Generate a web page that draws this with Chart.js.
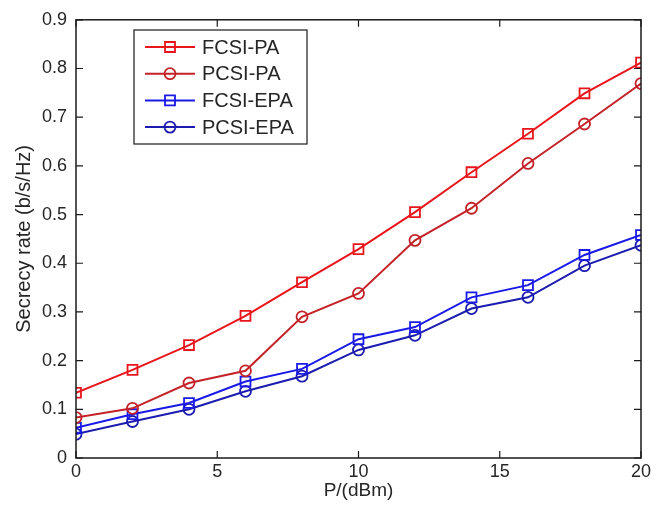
<!DOCTYPE html>
<html>
<head>
<meta charset="utf-8">
<script src="https://cdn.jsdelivr.net/npm/chart.js"></script>
<style>
  html, body { margin: 0; padding: 0; background: #fff; }
  #wrap { width: 663px; height: 514px; }
</style>
</head>
<body>
<div id="wrap"><canvas id="chart" width="663" height="514"></canvas></div>
<script>
// valores
const potencia = [0, 2, 4, 6, 8, 10, 12, 14, 16, 18, 20];
const fcsiPA  = [0.134, 0.181, 0.232, 0.292, 0.361, 0.429, 0.505, 0.587, 0.666, 0.749, 0.812];
const pcsiPA  = [0.083, 0.102, 0.154, 0.179, 0.290, 0.338, 0.447, 0.513, 0.605, 0.686, 0.769];
const fcsiEPA = [0.062, 0.090, 0.113, 0.157, 0.183, 0.244, 0.269, 0.330, 0.355, 0.417, 0.458];
const pcsiEPA = [0.049, 0.075, 0.100, 0.137, 0.168, 0.222, 0.252, 0.307, 0.330, 0.395, 0.437];
const etiquetas = ['FCSI-PA', 'PCSI-PA', 'FCSI-EPA', 'PCSI-EPA'];
const xTicks = [0, 5, 10, 15, 20];
const yTicks = [0, 0.1, 0.2, 0.3, 0.4, 0.5, 0.6, 0.7, 0.8, 0.9];

const colores = ['#e8161c', '#c42228', '#1a1ae8', '#1c1cb0'];
const marcas = ['rect', 'circle', 'rect', 'circle'];
const series = [fcsiPA, pcsiPA, fcsiEPA, pcsiEPA];

const FONT = '"Liberation Sans", Arial, sans-serif';
const TXT = '#262626';

function puntos(vals) {
    return potencia.map((p, i) => ({ x: p, y: vals[i] }));
}

// caja y marcas hacia adentro, estilo MATLAB
const cajaPlugin = {
    id: 'caja',
    afterDatasetsDraw(chart) {
        const { ctx, chartArea: a, scales } = chart;
        ctx.save();
        ctx.strokeStyle = '#1a1a1a';
        ctx.lineWidth = 1.5;
        ctx.strokeRect(a.left, a.top, a.right - a.left, a.bottom - a.top);
        ctx.lineWidth = 1.2;
        ctx.beginPath();
        xTicks.forEach(v => {
            const px = scales.x.getPixelForValue(v);
            ctx.moveTo(px, a.bottom); ctx.lineTo(px, a.bottom - 7);
            ctx.moveTo(px, a.top); ctx.lineTo(px, a.top + 7);
        });
        yTicks.forEach(v => {
            const py = scales.y.getPixelForValue(v);
            ctx.moveTo(a.left, py); ctx.lineTo(a.left + 7, py);
            ctx.moveTo(a.right, py); ctx.lineTo(a.right - 7, py);
        });
        ctx.stroke();
        ctx.restore();
    }
};

// leyenda dentro del area, con caja
const leyendaPlugin = {
    id: 'leyenda',
    afterDraw(chart) {
        const ctx = chart.ctx;
        const bx = 134, by = 30, bw = 173, bh = 114;
        ctx.save();
        ctx.fillStyle = '#fff';
        ctx.fillRect(bx, by, bw, bh);
        ctx.strokeStyle = '#1a1a1a';
        ctx.lineWidth = 1.2;
        ctx.strokeRect(bx, by, bw, bh);
        ctx.font = '20px ' + FONT;
        ctx.textBaseline = 'middle';
        chart.data.datasets.forEach((ds, i) => {
            const y = by + 17 + i * 26.7;
            ctx.strokeStyle = ds.borderColor;
            ctx.lineWidth = 2;
            ctx.beginPath();
            ctx.moveTo(bx + 11, y); ctx.lineTo(bx + 61, y);
            ctx.stroke();
            const cx = bx + 36;
            ctx.lineWidth = 1.8;
            ctx.beginPath();
            if (ds.pointStyle === 'rect') {
                ctx.rect(cx - 5, y - 5, 10, 10);
            } else {
                ctx.arc(cx, y, 5.5, 0, Math.PI * 2);
            }
            ctx.stroke();
            ctx.fillStyle = TXT;
            ctx.fillText(ds.label, bx + 68, y + 1);
        });
        ctx.restore();
    }
};

new Chart(document.getElementById('chart'), {
    type: 'line',
    data: {
        datasets: series.map((s, i) => ({
            label: etiquetas[i],
            data: puntos(s),
            borderColor: colores[i],
            backgroundColor: 'transparent',
            borderWidth: 2,
            pointStyle: marcas[i],
            pointRadius: marcas[i] === 'rect' ? 7 : 5.5,
            pointBorderWidth: 1.8,
            pointBorderColor: colores[i],
            pointBackgroundColor: 'transparent',
            tension: 0,
            fill: false
        }))
    },
    options: {
        responsive: false,
        animation: false,
        layout: { padding: { top: 15, right: 22, left: 0, bottom: 0 } },
        plugins: {
            legend: { display: false },
            tooltip: { enabled: false }
        },
        scales: {
            x: {
                type: 'linear',
                min: 0,
                max: 20,
                afterBuildTicks(scale) { scale.ticks = xTicks.map(v => ({ value: v })); },
                afterFit(scale) { scale.height = 56; },
                grid: { display: false, drawTicks: false },
                border: { display: false },
                ticks: { color: TXT, font: { size: 18, family: FONT }, padding: 3, maxRotation: 0 },
                title: { display: true, text: 'P/(dBm)', color: TXT, font: { size: 19, family: FONT }, padding: { top: 0, bottom: 12 } }
            },
            y: {
                min: 0,
                max: 0.9,
                afterBuildTicks(scale) { scale.ticks = yTicks.map(v => ({ value: v })); },
                afterFit(scale) { scale.width = 76; },
                grid: { display: false, drawTicks: false },
                border: { display: false },
                ticks: { color: TXT, font: { size: 18, family: FONT }, padding: 9, callback: v => String(+v.toFixed(1)) },
                title: { display: true, text: 'Secrecy rate (b/s/Hz)', color: TXT, font: { size: 20, family: FONT }, padding: { top: 12, bottom: 0 } }
            }
        }
    },
    plugins: [cajaPlugin, leyendaPlugin]
});
</script>
</body>
</html>
